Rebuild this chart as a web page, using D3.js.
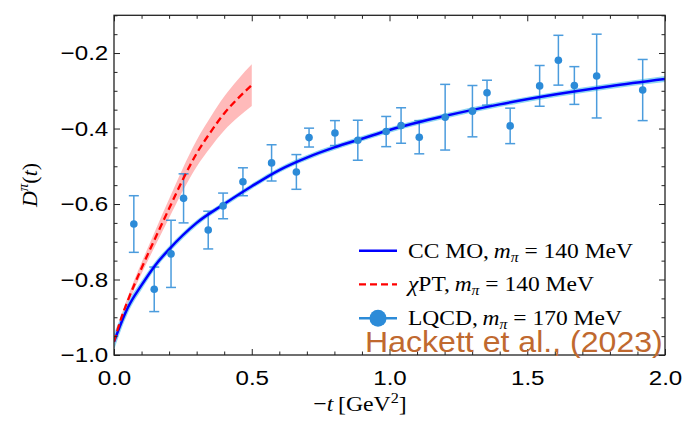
<!DOCTYPE html>
<html>
<head>
<meta charset="utf-8">
<script src="https://cdn.jsdelivr.net/npm/d3@7"></script>
<style>
  html, body { margin: 0; padding: 0; background: #fff; }
  svg { display: block; }
</style>
</head>
<body>
<svg id="chart" width="683" height="435"></svg>
<script>
// Lattice QCD points: -t [GeV^2], D(t), uncertainty
const lqcdT   = [0.072, 0.146, 0.207, 0.2525, 0.342, 0.396, 0.468, 0.572, 0.662, 0.708, 0.802, 0.885,
                 0.988, 1.042, 1.108, 1.202, 1.301, 1.354, 1.438, 1.545, 1.613, 1.671, 1.752, 1.919];
const lqcdD   = [-0.653, -0.826, -0.732, -0.585, -0.669, -0.605, -0.541, -0.491, -0.515, -0.424, -0.412, -0.431,
                 -0.408, -0.392, -0.423, -0.370, -0.354, -0.305, -0.393, -0.287, -0.219, -0.286, -0.261, -0.298];
const lqcdErr = [0.075, 0.059, 0.089, 0.065, 0.050, 0.034, 0.037, 0.048, 0.046, 0.025, 0.033, 0.053,
                 0.040, 0.047, 0.044, 0.087, 0.068, 0.033, 0.047, 0.054, 0.066, 0.050, 0.111, 0.081];

// CC MO curve (m_pi = 140 MeV) with its uncertainty half-width
const ccT   = [0, 0.025, 0.05, 0.1, 0.15, 0.2, 0.3, 0.4, 0.5, 0.6, 0.7, 0.8, 0.9, 1.0, 1.2, 1.4, 1.6, 1.8, 2.0];
const ccD   = [-0.965, -0.917, -0.875, -0.815, -0.762, -0.72, -0.65, -0.60, -0.553, -0.51, -0.477, -0.45,
               -0.427, -0.404, -0.367, -0.336, -0.31, -0.288, -0.269];
const ccErr = [0.022, 0.018, 0.015, 0.012, 0.010, 0.009, 0.008, 0.007, 0.007, 0.007, 0.007, 0.007,
               0.007, 0.007, 0.007, 0.007, 0.007, 0.007, 0.008];

// Chiral perturbation theory curve (m_pi = 140 MeV) with band half-width
const chiT   = [0, 0.025, 0.05, 0.1, 0.15, 0.2, 0.25, 0.3, 0.35, 0.4, 0.45, 0.5];
const chiD   = [-0.965, -0.905, -0.856, -0.77, -0.69, -0.612, -0.535, -0.466, -0.41, -0.36, -0.32, -0.285];
const chiErr = [0.004, 0.007, 0.010, 0.015, 0.020, 0.025, 0.030, 0.035, 0.040, 0.045, 0.050, 0.055];

// Axis ticks
const xMajor = [0, 0.5, 1.0, 1.5, 2.0];
const xMinor = [0.1, 0.2, 0.3, 0.4, 0.6, 0.7, 0.8, 0.9, 1.1, 1.2, 1.3, 1.4, 1.6, 1.7, 1.8, 1.9];
const yMajor = [-1.0, -0.8, -0.6, -0.4, -0.2];
const yMinor = [-0.95, -0.9, -0.85, -0.75, -0.7, -0.65, -0.55, -0.5, -0.45, -0.35, -0.3, -0.25, -0.15, -0.1];
const xLabels = ["0.0", "0.5", "1.0", "1.5", "2.0"];
const yLabels = ["\u22121.0", "\u22120.8", "\u22120.6", "\u22120.4", "\u22120.2"];

const C_BLUE = "#0000ff", C_BAND = "#8fd6f2", C_RED = "#ff0000", C_REDBAND = "#ffb3b3",
      C_PT = "#2c8bd8", C_NOTE = "#c0692f";

const svg = d3.select("#chart");
const pLeft = 114, pRight = 665, pTop = 15.3, pBottom = 355;
const x = d3.scaleLinear().domain([0, 2]).range([pLeft, pRight]);
const y = d3.scaleLinear().domain([-1, -0.1]).range([pBottom, pTop]);

const plot = svg.append("g");
svg.append("clipPath").attr("id", "clip")
  .append("rect").attr("x", pLeft).attr("y", pTop).attr("width", pRight - pLeft).attr("height", pBottom - pTop);
const inner = plot.append("g").attr("clip-path", "url(#clip)");

// Bands
const ccRows = ccT.map((t, i) => ({t, d: ccD[i], e: ccErr[i]}));
const chiRows = chiT.map((t, i) => ({t, d: chiD[i], e: chiErr[i]}));
const band = d3.area().x(r => x(r.t)).y0(r => y(r.d - r.e)).y1(r => y(r.d + r.e)).curve(d3.curveMonotoneX);
const line = d3.line().x(r => x(r.t)).y(r => y(r.d)).curve(d3.curveMonotoneX);

inner.append("path").attr("d", band(chiRows)).attr("fill", C_REDBAND).attr("opacity", 0.9);
inner.append("path").attr("d", band(ccRows)).attr("fill", C_BAND);

// Error bars
const pts = lqcdT.map((t, i) => ({t, d: lqcdD[i], e: lqcdErr[i]}));
const eb = inner.append("g").attr("stroke", C_PT).attr("stroke-width", 1.5).attr("opacity", 0.85);
pts.forEach(p => {
  eb.append("line").attr("x1", x(p.t)).attr("x2", x(p.t)).attr("y1", y(p.d - p.e)).attr("y2", y(p.d + p.e));
  [p.d - p.e, p.d + p.e].forEach(v => {
    eb.append("line").attr("x1", x(p.t) - 5).attr("x2", x(p.t) + 5).attr("y1", y(v)).attr("y2", y(v));
  });
});

// Curves
inner.append("path").attr("d", line(ccRows)).attr("fill", "none").attr("stroke", C_BLUE).attr("stroke-width", 2.5);
inner.append("path").attr("d", line(chiRows)).attr("fill", "none")
  .attr("stroke", C_RED).attr("stroke-width", 2.3).attr("stroke-dasharray", "7,4");

// Points
inner.append("g").selectAll("circle").data(pts).join("circle")
  .attr("cx", p => x(p.t)).attr("cy", p => y(p.d)).attr("r", 3.8).attr("fill", C_PT);

// Axes with inward ticks on all four sides
const TXT = 1.15;
function styleAxis(g) {
  g.select(".domain").remove();
  g.selectAll(".tick line").attr("stroke", "#222").attr("stroke-width", 1);
}
const fmtX = (d) => xLabels[xMajor.indexOf(d)];
const fmtY = (d) => yLabels[yMajor.indexOf(d)];

const gB = svg.append("g").attr("transform", `translate(0,${pBottom})`)
  .call(d3.axisBottom(x).tickValues(xMajor).tickFormat(fmtX).tickSizeInner(-6).tickSizeOuter(0).tickPadding(15));
gB.call(styleAxis);
gB.selectAll("text").attr("font-family", "Liberation Sans, Arial, sans-serif").attr("font-size", 21)
  .attr("fill", "#000").attr("transform", `scale(${TXT},1)`);
svg.append("g").attr("transform", `translate(0,${pBottom})`)
  .call(d3.axisBottom(x).tickValues(xMinor).tickFormat("").tickSizeInner(-3.5).tickSizeOuter(0)).call(styleAxis);
svg.append("g").attr("transform", `translate(0,${pTop})`)
  .call(d3.axisTop(x).tickValues(xMajor).tickFormat("").tickSizeInner(-6).tickSizeOuter(0)).call(styleAxis);
svg.append("g").attr("transform", `translate(0,${pTop})`)
  .call(d3.axisTop(x).tickValues(xMinor).tickFormat("").tickSizeInner(-3.5).tickSizeOuter(0)).call(styleAxis);

const gL = svg.append("g").attr("transform", `translate(${pLeft},0)`)
  .call(d3.axisLeft(y).tickValues(yMajor).tickFormat(fmtY).tickSizeInner(-6).tickSizeOuter(0).tickPadding(5));
gL.call(styleAxis);
gL.selectAll("text").attr("font-family", "Liberation Sans, Arial, sans-serif").attr("font-size", 21)
  .attr("fill", "#000").attr("transform", `scale(${TXT},1)`);
svg.append("g").attr("transform", `translate(${pLeft},0)`)
  .call(d3.axisLeft(y).tickValues(yMinor).tickFormat("").tickSizeInner(-3.5).tickSizeOuter(0)).call(styleAxis);
svg.append("g").attr("transform", `translate(${pRight},0)`)
  .call(d3.axisRight(y).tickValues(yMajor).tickFormat("").tickSizeInner(-6).tickSizeOuter(0)).call(styleAxis);
svg.append("g").attr("transform", `translate(${pRight},0)`)
  .call(d3.axisRight(y).tickValues(yMinor).tickFormat("").tickSizeInner(-3.5).tickSizeOuter(0)).call(styleAxis);

// Frame
svg.append("rect").attr("x", pLeft).attr("y", pTop).attr("width", pRight - pLeft).attr("height", pBottom - pTop)
  .attr("fill", "none").attr("stroke", "#222").attr("stroke-width", 1.3);

// Axis titles
const SERIF = "Liberation Serif, Times New Roman, serif";
const xt = svg.append("text").attr("font-family", SERIF).attr("font-size", 22)
  .attr("text-anchor", "middle").attr("transform", `translate(360,411) scale(1.08,1)`);
xt.append("tspan").text("\u2212");
xt.append("tspan").attr("font-style", "italic").text("t");
xt.append("tspan").text("\u2009[GeV");
xt.append("tspan").attr("font-size", 15).attr("dy", -8).text("2");
xt.append("tspan").attr("dy", 8).text("]");

const yt = svg.append("text").attr("font-family", SERIF).attr("font-size", 22)
  .attr("text-anchor", "middle").attr("transform", `translate(37,185) rotate(-90)`);
yt.append("tspan").attr("font-style", "italic").text("D");
yt.append("tspan").attr("font-size", 15).attr("font-style", "italic").attr("dy", -9).text("\u03c0");
yt.append("tspan").attr("dy", 9).text("(");
yt.append("tspan").attr("font-style", "italic").text("t");
yt.append("tspan").text(")");

// Legend
const legend = svg.append("g");
const rows = [
  {y: 250.7, name: "CC MO,\u2009", mass: "140"},
  {y: 284.3, name: "\u03c7PT,\u2009", mass: "140"},
  {y: 318.3, name: "LQCD,\u2009", mass: "170"}
];
legend.append("line").attr("x1", 359).attr("x2", 397).attr("y1", rows[0].y).attr("y2", rows[0].y)
  .attr("stroke", C_BLUE).attr("stroke-width", 2.5);
legend.append("line").attr("x1", 359).attr("x2", 397).attr("y1", rows[1].y).attr("y2", rows[1].y)
  .attr("stroke", C_RED).attr("stroke-width", 2.3).attr("stroke-dasharray", "7,4");
legend.append("line").attr("x1", 359).attr("x2", 397).attr("y1", rows[2].y).attr("y2", rows[2].y)
  .attr("stroke", C_PT).attr("stroke-width", 2.5);
legend.append("circle").attr("cx", 378).attr("cy", rows[2].y).attr("r", 8.5).attr("fill", C_PT);
rows.forEach((r, i) => {
  const t = legend.append("text").attr("font-family", SERIF).attr("font-size", 21)
    .attr("transform", `translate(408,${r.y + 7}) scale(1.12,1)`);
  if (i === 1) {
    t.append("tspan").attr("font-style", "italic").text("\u03c7");
    t.append("tspan").text("PT,\u2009");
  } else {
    t.append("tspan").text(r.name);
  }
  t.append("tspan").attr("font-style", "italic").text("m");
  t.append("tspan").attr("font-style", "italic").attr("font-size", 14).attr("dy", 4).text("\u03c0");
  t.append("tspan").attr("dy", -4).text(" = " + r.mass + " MeV");
});

// Attribution
svg.append("text").attr("font-family", "Liberation Sans, Arial, sans-serif").attr("font-size", 30)
  .attr("fill", C_NOTE).attr("transform", "translate(365,352) scale(1.07,1)")
  .text("Hackett et al., (2023)");
</script>
</body>
</html>
